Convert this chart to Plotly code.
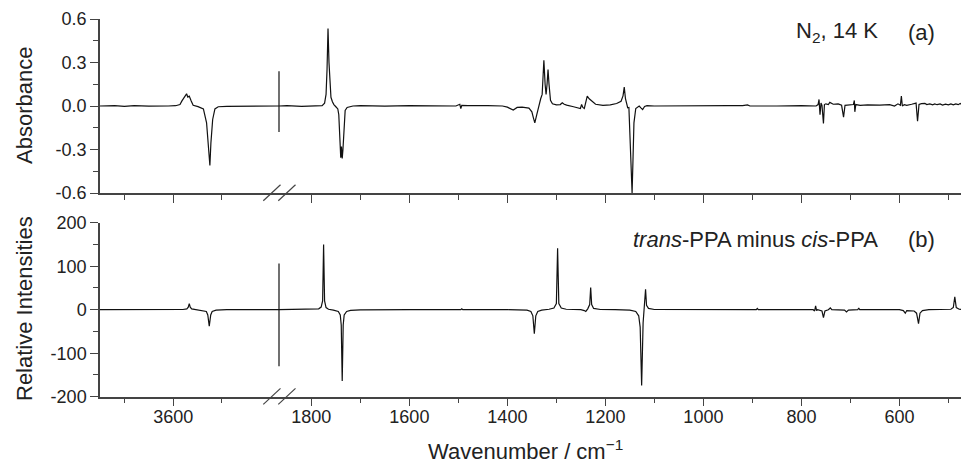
import plotly.graph_objects as go

# (a) measured difference spectrum, N2 matrix 14 K -- high wavenumber segment
a_hi_wn = [3750, 3720, 3700, 3680, 3650, 3630, 3610, 3595, 3586, 3582, 3578, 3575, 3572.5, 3570, 3567, 3563,
           3559, 3549, 3538, 3531.5, 3528, 3524.7, 3522.6, 3519, 3514.4, 3507.6, 3490, 3450, 3420, 3383]
a_hi_abs = [0.0, 0.003, -0.002, 0.002, -0.001, 0.002, 0.0, 0.002, 0.01, 0.035, 0.06, 0.075, 0.084, 0.062, 0.068, 0.035,
            0.005, -0.004, -0.02, -0.116, -0.254, -0.41, -0.254, -0.093, -0.02, -0.005, -0.002, 0.0, 0.001, 0.0]

# (a) low wavenumber segment
a_lo_wn = [1866, 1850, 1820, 1790, 1778, 1773, 1770, 1768, 1766, 1764, 1762, 1760, 1757, 1754, 1750, 1746, 1744,
           1742, 1740, 1738.5, 1737, 1735.5, 1733, 1731, 1727, 1722, 1715, 1700, 1650, 1600, 1550, 1505, 1497,
           1495, 1493, 1480, 1440, 1410, 1400, 1392, 1388, 1380, 1370, 1356, 1350, 1347, 1344, 1340, 1336, 1332,
           1329, 1327, 1325.5, 1323, 1321, 1319, 1317, 1315, 1312, 1308, 1300, 1292, 1288, 1284, 1279, 1265, 1255,
           1251, 1248.5, 1246, 1243, 1240, 1237, 1233, 1228, 1220, 1205, 1190, 1177, 1168, 1164, 1161.5, 1159, 1156,
           1154.5, 1152, 1150, 1148.5, 1147, 1145.5, 1143.5, 1141.7, 1138, 1134, 1131, 1127, 1124, 1120, 1115, 1100,
           1050, 1000, 950, 920, 910, 905, 880, 850, 800, 780, 770, 766, 764, 762, 760, 758, 755, 753, 750, 745, 742,
           735, 725, 718, 714, 711, 700, 694, 692, 691, 689, 680, 665, 640, 620, 610, 603, 598, 596, 594, 590, 585,
           575, 566, 563, 560, 555, 548, 544, 538, 532, 528, 523, 517, 512, 506, 500, 495, 490, 485, 480, 476, 472,
           468, 464, 460, 458]
a_lo_abs = [0.0, 0.002, -0.002, 0.0, 0.003, 0.02, 0.08, 0.25, 0.534, 0.3, 0.12, 0.06, 0.03, 0.01, -0.005, -0.02, -0.06,
            -0.2, -0.357, -0.28, -0.362, -0.3, -0.1, -0.03, -0.01, -0.004, 0.0, 0.002, -0.001, 0.002, 0.0, 0.0, 0.012,
            -0.018, 0.005, 0.003, 0.002, 0.0, -0.008, -0.025, -0.028, -0.01, -0.008, -0.015, -0.04, -0.08, -0.116,
            -0.06, 0.0, 0.05, 0.08, 0.2, 0.316, 0.15, 0.079, 0.15, 0.252, 0.15, 0.04, 0.015, 0.008, 0.01, 0.022,
            0.012, 0.006, -0.005, -0.015, -0.017, 0.01, -0.01, -0.017, 0.03, 0.068, 0.05, 0.035, 0.012, 0.005, 0.008,
            0.017, 0.033, 0.07, 0.13, 0.05, 0.0, -0.012, -0.01, -0.21, -0.40, -0.45, -0.60, -0.35, -0.116, -0.017,
            -0.005, 0.0, -0.015, -0.024, -0.003, 0.002, 0.0, 0.002, -0.001, 0.003, 0.002, 0.008, 0.0, 0.002, 0.0,
            0.002, 0.0, 0.0, 0.01, 0.045, -0.06, 0.02, 0.005, -0.12, 0.01, 0.015, 0.01, 0.025, 0.012, 0.015, 0.005,
            -0.077, 0.005, 0.008, 0.01, 0.038, -0.04, 0.01, 0.005, 0.008, 0.006, 0.01, 0.0, 0.015, 0.005, 0.068, 0.0,
            0.01, 0.005, 0.012, 0.02, -0.105, 0.01, 0.016, 0.018, 0.01, 0.014, 0.008, 0.015, 0.009, 0.014, 0.007,
            0.013, 0.008, 0.015, 0.008, 0.014, 0.009, 0.017, 0.008, 0.014, 0.01, 0.015, 0.012]

# (b) calculated trans-PPA minus cis-PPA
b_hi_wn = [3750, 3600, 3580, 3572, 3569, 3567, 3565, 3562, 3555, 3540, 3532, 3529, 3526, 3523, 3520, 3512, 3490, 3383]
b_hi_int = [0, 0, 0.5, 2, 6, 14, 6, 2, 0.5, -1, -4, -12, -38, -12, -4, -1, 0, 0]

b_lo_wn = [1866, 1800, 1785, 1780, 1777, 1775, 1773, 1770, 1765, 1755, 1745, 1741, 1739, 1737, 1735, 1733, 1728,
           1720, 1700, 1600, 1495, 1493, 1491, 1400, 1360, 1352, 1348, 1345, 1342, 1338, 1330, 1315, 1305, 1300,
           1297.5, 1295, 1290, 1280, 1250, 1243, 1240, 1236, 1232, 1230, 1228, 1224, 1210, 1180, 1150, 1138, 1132,
           1129, 1126, 1123, 1121, 1119, 1118, 1116, 1112, 1100, 1050, 900, 892, 890, 888, 800, 776, 773, 771, 769,
           767, 758, 755, 752, 745, 741, 738, 712, 708, 704, 685, 683, 681, 600, 592, 588, 585, 570, 565, 561, 558,
           553, 540, 495, 490, 487, 484, 478, 458]
b_lo_int = [0, 0.5, 2, 6, 20, 150, 20, 5, 1, -1, -4, -12, -35, -164, -35, -12, -4,
            -1.5, -0.5, 0, 0, 2, 0, 0, -1, -4, -14, -55, -14, -4, -1, 1, 4, 14,
            141, 14, 4, 1, 0, -2, -4, 2, 12, 51, 12, 3, 0.5, 0, -1, -4, -14,
            -40, -174, -30, 0, 20, 47, 10, 3, 0.5, 0, 0, 0, 3, 0, 0, 0, -3, 9, -2,
            0, -3, -18, -3, 0, 4, 0, -1, -5, -1, 0, 4, 0, 0, -2, -8, -2, -3, -8, -32, -8,
            -2, 0, 1, 5, 29.5, 5, 1, 0]

# vertical marker at the axis break (top / bottom extent)
break_a = [-0.18, 0.24]
break_b = [-130, 106]

hi_major = [3600]
hi_minor = [3700, 3500]
lo_major = [1800, 1600, 1400, 1200, 1000, 800, 600]
lo_minor = [1700, 1500, 1300, 1100, 900, 700, 500]
a_ticks = [-0.6, -0.3, 0.0, 0.3, 0.6]
a_ticktext = ['-0.6', '-0.3', '0.0', '0.3', '0.6']
a_minor = [-0.45, -0.15, 0.15, 0.45]
b_ticks = [-200, -100, 0, 100, 200]
b_ticktext = ['-200', '-100', '0', '100', '200']
b_minor = [-150, -50, 50, 150]

# page is 969x463, the html body adds an 8 px margin around the figure
OFF = 8
FW, FH = 969 - OFF, 463 - OFF


def px_x(p):
    return (p - OFF) / FW


def px_y(p):
    return 1 - (p - OFF) / FH


FONT = 'Arial, Liberation Sans, sans-serif'
INK = '#222222'
AX = '#444444'
split = px_x(279)

fig = go.Figure()
line = dict(color='#111111', width=1.2)
fig.add_trace(go.Scatter(x=a_hi_wn, y=a_hi_abs, xaxis='x', yaxis='y', mode='lines', line=line))
fig.add_trace(go.Scatter(x=a_lo_wn, y=a_lo_abs, xaxis='x2', yaxis='y', mode='lines', line=line))
fig.add_trace(go.Scatter(x=b_hi_wn, y=b_hi_int, xaxis='x3', yaxis='y2', mode='lines', line=line))
fig.add_trace(go.Scatter(x=b_lo_wn, y=b_lo_int, xaxis='x4', yaxis='y2', mode='lines', line=line))


def xax(domain, rng, major, minor, anchor, labels):
    return dict(domain=domain, range=rng, anchor=anchor, showgrid=False, zeroline=False, automargin=False,
                showline=True, linecolor=AX, linewidth=1.5,
                tickmode='array', tickvals=major, ticks='outside', ticklen=8, tickwidth=1.2, tickcolor=AX,
                ticklabelstandoff=-5,
                minor=dict(tickmode='array', tickvals=minor, ticks='outside', ticklen=5, tickwidth=1.2, tickcolor=AX),
                showticklabels=labels, tickfont=dict(family=FONT, size=18, color=INK))


def yax(domain, rng, major, text, minor, anchor):
    return dict(domain=domain, range=rng, anchor=anchor, showgrid=False, zeroline=False, automargin=False,
                showline=True, linecolor=AX, linewidth=1.5,
                tickmode='array', tickvals=major, ticktext=text, ticks='outside', ticklen=8, tickwidth=1.2,
                tickcolor=AX,
                minor=dict(tickmode='array', tickvals=minor, ticks='outside', ticklen=5, tickwidth=1.2, tickcolor=AX),
                tickfont=dict(family=FONT, size=18, color=INK))


left_dom = [px_x(100), split]
right_dom = [split, px_x(969)]
top_dom = [px_y(193), px_y(19)]
bot_dom = [px_y(396.7), px_y(222.7)]

fig.update_layout(
    template='none',
    width=FW, height=FH,
    margin=dict(l=0, r=0, t=0, b=0, pad=0, autoexpand=False),
    paper_bgcolor='white', plot_bgcolor='white',
    showlegend=False,
    xaxis=xax(left_dom, [3750, 3383], hi_major, hi_minor, 'y', False),
    xaxis2=xax(right_dom, [1866, 458], lo_major, lo_minor, 'y', False),
    xaxis3=xax(left_dom, [3750, 3383], hi_major, hi_minor, 'y2', True),
    xaxis4=xax(right_dom, [1866, 458], lo_major, lo_minor, 'y2', True),
    yaxis=yax(top_dom, [-0.6, 0.6], a_ticks, a_ticktext, a_minor, 'x'),
    yaxis2=yax(bot_dom, [-200, 200], b_ticks, b_ticktext, b_minor, 'x3'),
)

# break marker lines
fig.add_shape(type='line', xref='paper', yref='y', x0=split, x1=split, y0=break_a[0], y1=break_a[1],
              line=dict(color='#111111', width=1.2))
fig.add_shape(type='line', xref='paper', yref='y2', x0=split, x1=split, y0=break_b[0], y1=break_b[1],
              line=dict(color='#111111', width=1.2))

# "//" break symbols on both x axes
for ay in (193, 396.7):
    for x0 in (263.3, 278.3):
        fig.add_shape(type='line', xref='paper', yref='paper',
                      x0=px_x(x0), y0=px_y(ay + 7.7), x1=px_x(x0 + 17.2), y1=px_y(ay - 8.3),
                      line=dict(color=AX, width=1.2))

ann_font = dict(family=FONT, size=22, color=INK)


def label(text, x, y, xanchor='center', angle=0):
    fig.add_annotation(text=text, xref='paper', yref='paper', x=px_x(x), y=px_y(y), xanchor=xanchor,
                       yanchor='middle', textangle=angle, showarrow=False, font=ann_font)


label('N<sub>2</sub>, 14 K', 880, 32, 'right')
label('(a)', 937, 32, 'right')
label('<i>trans</i>-PPA minus <i>cis</i>-PPA', 880, 240, 'right')
label('(b)', 937, 240, 'right')

# axis titles
label('Absorbance', 24, 106, angle=-90)
label('Relative Intensities', 24, 309, angle=-90)
label('Wavenumber / cm<sup>\u22121</sup>', 525, 450)

fig.write_html('out.html')
